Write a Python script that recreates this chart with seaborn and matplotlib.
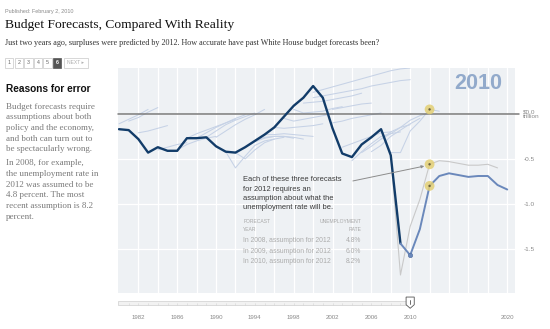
import numpy as np
import pandas as pd
import matplotlib
matplotlib.use("Agg")
import matplotlib.pyplot as plt
import seaborn as sns
from matplotlib.patches import Rectangle, Polygon
from matplotlib.transforms import blended_transform_factory

sns.set_theme(style="white")
SANS = ["Liberation Sans", "DejaVu Sans"]
SERIF = ["Liberation Serif", "DejaVu Serif"]
plt.rcParams["font.family"] = SANS

W, H, DPI = 550, 329, 100

# ---- data (surplus / deficit, trillions of dollars) ----
actual_years = list(range(1980, 2010))
actual_vals = [-0.17, -0.18, -0.28, -0.43, -0.37, -0.41, -0.41, -0.27, -0.27, -0.26,
               -0.36, -0.42, -0.43, -0.37, -0.30, -0.23, -0.15, -0.03, 0.09, 0.18,
               0.31, 0.18, -0.16, -0.44, -0.48, -0.34, -0.26, -0.17, -0.46, -1.44]

fc2010_years = list(range(2009, 2021))
fc2010_vals = [-1.44, -1.57, -1.28, -0.80, -0.69, -0.66, -0.68, -0.70, -0.69, -0.69, -0.79, -0.84]

fc2009_years = list(range(2008, 2020))
fc2009_vals = [-0.46, -1.79, -1.25, -0.95, -0.56, -0.52, -0.53, -0.55, -0.57, -0.57, -0.56, -0.60]

fc2008_years = list(range(2007, 2014))
fc2008_vals = [-0.17, -0.43, -0.43, -0.19, -0.08, 0.05, 0.03]

# earlier budget forecasts: first projected year and projected values
past_fc_start = [1980, 1981, 1982, 1984, 1986, 1987, 1988, 1989, 1990, 1991, 1992,
                 1993, 1994, 1995, 1996, 1997, 1998, 1999, 2000, 2000, 2002, 2002,
                 2003, 2004, 2005, 2006, 2007]
past_fc_vals = [
    [-0.11, -0.06, -0.01, 0.05],
    [-0.08, -0.04, 0.02, 0.07],
    [-0.21, -0.19, -0.16, -0.13],
    [-0.40, -0.37, -0.34, -0.32],
    [-0.40, -0.34, -0.30, -0.27, -0.25],
    [-0.27, -0.22, -0.18, -0.14, -0.10, -0.06],
    [-0.27, -0.21, -0.15, -0.10, -0.05, -0.01],
    [-0.26, -0.19, -0.12, -0.07, -0.03, 0.01],
    [-0.26, -0.19, -0.12, -0.06, -0.01, 0.05],
    [-0.42, -0.60, -0.47, -0.35, -0.30, -0.28],
    [-0.43, -0.50, -0.40, -0.32, -0.28, -0.26],
    [-0.37, -0.31, -0.27, -0.25, -0.25, -0.27],
    [-0.30, -0.26, -0.25, -0.25, -0.26, -0.28],
    [-0.23, -0.23, -0.22, -0.23, -0.24, -0.25],
    [-0.15, -0.16, -0.15, -0.14, -0.13, -0.11],
    [-0.05, -0.08, -0.06, -0.04, -0.02, 0.00],
    [0.05, 0.01, 0.02, 0.03, 0.06, 0.08],
    [0.12, 0.13, 0.14, 0.16, 0.18, 0.20, 0.23],
    [0.24, 0.27, 0.30, 0.33, 0.36, 0.39, 0.42, 0.45, 0.48, 0.50, 0.51],
    [0.18, 0.20, 0.22, 0.24, 0.26, 0.28, 0.31, 0.33, 0.35, 0.37, 0.38],
    [0.05, 0.07, 0.09, 0.11, 0.12],
    [-0.10, -0.08, -0.05, -0.03, -0.01, 0.01],
    [-0.37, -0.33, -0.29, -0.25, -0.21, -0.20],
    [-0.52, -0.42, -0.33, -0.25, -0.22, -0.20],
    [-0.43, -0.36, -0.28, -0.20, -0.15, -0.12],
    [-0.42, -0.35, -0.25, -0.18, -0.11, -0.05],
    [-0.28, -0.22, -0.15, -0.07, -0.02, 0.01],
]

target_year = 2012
current_year = 2010
target_vals = [fc2008_vals[fc2008_years.index(target_year)],
               fc2009_vals[fc2009_years.index(target_year)],
               fc2010_vals[fc2010_years.index(target_year)]]
forecast_made = [2008, 2009, 2010]
unemployment = [4.8, 6.0, 8.2]

label_years = [1982, 1986, 1990, 1994, 1998, 2002, 2006, 2010, 2020]
grid_years = list(range(1982, 2021, 2))
y_ticks = [0.0, -0.5, -1.0, -1.5]
y_labels = ["$0.0\ntrillion", "-0.5", "-1.0", "-1.5"]

# ---- frames ----
rows = []
for i, (s, vals) in enumerate(zip(past_fc_start, past_fc_vals)):
    for k, v in enumerate(vals):
        rows.append({"fid": i, "year": s + k, "value": v})
past_df = pd.DataFrame(rows)
actual_df = pd.DataFrame({"year": actual_years, "value": actual_vals})
fc2010_df = pd.DataFrame({"year": fc2010_years, "value": fc2010_vals})
fc2009_df = pd.DataFrame({"year": fc2009_years, "value": fc2009_vals})
fc2008_df = pd.DataFrame({"year": fc2008_years, "value": fc2008_vals})
target_df = pd.DataFrame({"year": [target_year] * 3, "value": target_vals})
now_df = pd.DataFrame({"year": [current_year],
                       "value": [fc2010_vals[fc2010_years.index(current_year)]]})

# ---- figure ----
fig = plt.figure(figsize=(W / DPI, H / DPI), dpi=DPI)
fig.patch.set_facecolor("white")


def fx(px):
    return px / W


def fy(py):
    return 1 - py / H


ax = fig.add_axes([fx(118), fy(293), fx(515) - fx(118), fy(68) - fy(293)])
ax.set_facecolor("#eef1f4")
ax.set_xlim(1979.9, 2020.8)
ax.set_ylim(-1.99, 0.51)
for sp in ax.spines.values():
    sp.set_visible(False)

ax.set_xticks(label_years)
ax.set_xticks(grid_years, minor=True)
ax.set_xticklabels([str(y) for y in label_years])
ax.tick_params(axis="x", which="both", length=0, pad=16, labelsize=4.4, labelcolor="#8a8a8a")
ax.xaxis.grid(True, which="both", color="white", lw=0.9)

ax.yaxis.tick_right()
ax.set_yticks(y_ticks)
ax.set_yticklabels(y_labels)
ax.tick_params(axis="y", length=0, pad=6, labelsize=4.6, labelcolor="#8a8a8a")
for lab in ax.get_yticklabels():
    lab.set_horizontalalignment("left")
    lab.set_linespacing(0.95)
ax.yaxis.grid(True, color="white", lw=0.9)
ax.set_axisbelow(True)

# past forecasts
sns.lineplot(data=past_df, x="year", y="value", units="fid", estimator=None,
             color="#c6d2e6", lw=0.75, ax=ax, legend=False)
sns.lineplot(data=fc2008_df, x="year", y="value", color="#c6d2e6", lw=0.75, ax=ax)
sns.lineplot(data=fc2009_df, x="year", y="value", color="#c9c9c9", lw=0.8, ax=ax)

ax.axhline(0, color="#7a7a7a", lw=1.1, xmax=1.01, clip_on=False, zorder=2)

sns.lineplot(data=actual_df, x="year", y="value", color="#123c69", lw=1.7, ax=ax, zorder=4)
sns.lineplot(data=fc2010_df, x="year", y="value", color="#6a88bb", lw=1.4, ax=ax, zorder=4)
sns.scatterplot(data=now_df, x="year", y="value", color="#6a88bb", s=10, ax=ax,
                edgecolor="#4e6c9e", linewidth=0.4, zorder=5)
sns.scatterplot(data=target_df, x="year", y="value", color="#e3cf74", s=50, alpha=0.85,
                edgecolor="none", ax=ax, zorder=6)
sns.scatterplot(data=target_df, x="year", y="value", color="#6b6140", s=3,
                edgecolor="none", ax=ax, zorder=7)
ax.set_xlabel("")
ax.set_ylabel("")

ax.text(2019.5, 0.34, str(current_year), fontsize=15.5, fontweight="bold",
        color="#92aacb", ha="right", va="center")

# annotation
ann_lines = ["Each of these three forecasts", "for 2012 requires an",
             "assumption about what the", "unemployment rate will be."]
for i, t in enumerate(ann_lines):
    ax.text(1992.8, -0.733 - i * 0.103, t, fontsize=5.4, color="#3a3a3a", va="center")
ax.annotate("", xy=(target_year - 0.55, target_vals[1] - 0.02), xytext=(2004.1, -0.745),
            arrowprops=dict(arrowstyle="-|>", color="#8c8c8c", lw=0.7,
                            mutation_scale=4, shrinkA=0, shrinkB=0), zorder=5)

ax.text(1992.8, -1.20, "FORECAST", fontsize=3.6, color="#a8a8a8", va="center")
ax.text(1992.8, -1.28, "YEAR", fontsize=3.6, color="#a8a8a8", va="center")
ax.text(2004.95, -1.20, "UNEMPLOYMENT", fontsize=3.6, color="#a8a8a8", va="center", ha="right")
ax.text(2004.95, -1.28, "RATE", fontsize=3.6, color="#a8a8a8", va="center", ha="right")
for i, (yr, u) in enumerate(zip(forecast_made, unemployment)):
    yy = -1.41 - i * 0.117
    ax.text(1992.8, yy, f"In {yr}, assumption for {target_year}", fontsize=4.9,
            color="#acacac", va="center")
    ax.text(2004.95, yy, f"{u:.1f}%", fontsize=4.9, color="#acacac", va="center", ha="right")

# timeline slider under the plot
bt = blended_transform_factory(ax.transData, ax.transAxes)
ax.add_patch(Rectangle((1979.9, -0.055), current_year - 0.3 - 1979.9, 0.02, transform=bt,
                       facecolor="#f2f2f2", edgecolor="#cfcfcf", lw=0.5, clip_on=False))
for yr in range(1981, current_year):
    ax.plot([yr, yr], [-0.052, -0.046], transform=bt, color="#d4d4d4", lw=0.4, clip_on=False)
thumb = Polygon([(current_year - 0.42, -0.018), (current_year + 0.42, -0.018),
                 (current_year + 0.42, -0.052), (current_year, -0.068),
                 (current_year - 0.42, -0.052)], closed=True, transform=bt,
                facecolor="white", edgecolor="#555555", lw=0.6, clip_on=False)
ax.add_patch(thumb)
ax.plot([current_year, current_year], [-0.03, -0.05], transform=bt, color="#555555",
        lw=0.6, clip_on=False)

# ---- header ----
fig.text(fx(5), fy(11), "Published: February 2, 2010", fontsize=3.9, color="#8a8a8a", va="center")
fig.text(fx(5), fy(25), "Budget Forecasts, Compared With Reality", fontsize=9.7,
         family=SERIF, color="#111111", va="center")
fig.text(fx(5), fy(43), "Just two years ago, surpluses were predicted by 2012. "
         "How accurate have past White House budget forecasts been?",
         fontsize=5.85, family=SERIF, color="#333333", va="center")

# page buttons
for i, lab in enumerate(["1", "2", "3", "4", "5", "6"]):
    x0 = 5 + i * 9.6
    sel = lab == "6"
    fig.patches.append(Rectangle((fx(x0), fy(68)), fx(8.4), fy(58) - fy(68),
                                 transform=fig.transFigure, figure=fig,
                                 facecolor="#555555" if sel else "white",
                                 edgecolor="#555555" if sel else "#c8c8c8", lw=0.5))
    fig.text(fx(x0 + 4.2), fy(63), lab, fontsize=3.8, ha="center", va="center",
             color="white" if sel else "#666666", fontweight="bold" if sel else "normal")
fig.patches.append(Rectangle((fx(63.5), fy(68)), fx(24.5), fy(58) - fy(68),
                             transform=fig.transFigure, figure=fig,
                             facecolor="white", edgecolor="#c8c8c8", lw=0.5))
fig.text(fx(75.7), fy(63), "NEXT \u25b8", fontsize=3.6, ha="center", va="center", color="#b0b0b0")

# sidebar
fig.text(fx(6), fy(89), "Reasons for error", fontsize=7.3, fontweight="bold",
         color="#111111", va="center")
para1 = ["Budget forecasts require", "assumptions about both", "policy and the economy,",
         "and both can turn out to", "be spectacularly wrong."]
para2 = ["In 2008, for example,", "the unemployment rate in", "2012 was assumed to be",
         "4.8 percent. The most", "recent assumption is 8.2", "percent."]
for i, t in enumerate(para1):
    fig.text(fx(6), fy(106.7 + i * 10.6), t, fontsize=6.5, family=SERIF,
             color="#7a7a7a", va="center")
for i, t in enumerate(para2):
    fig.text(fx(6), fy(163.3 + i * 10.65), t, fontsize=6.5, family=SERIF,
             color="#7a7a7a", va="center")

fig.savefig("out.png", dpi=DPI, facecolor="white")
